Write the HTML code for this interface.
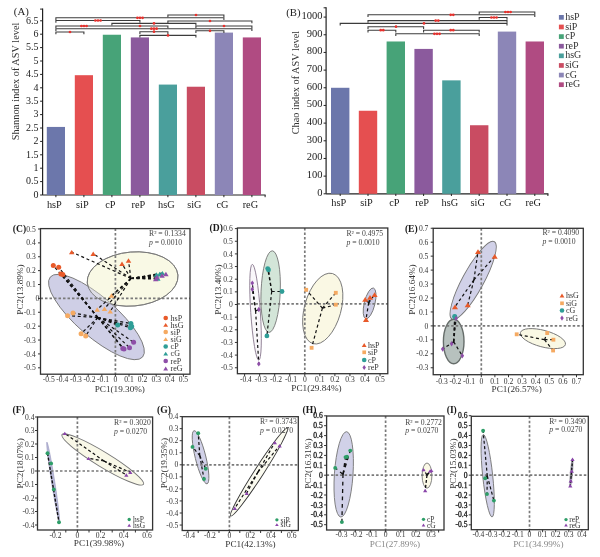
<!DOCTYPE html>
<html><head><meta charset="utf-8"><title>Figure</title>
<style>html,body{margin:0;padding:0;background:#fff;} svg{display:block;} text{font-family:"Liberation Serif", "Times New Roman", serif;}</style>
</head><body>
<svg width="600" height="557" viewBox="0 0 600 557">
<rect width="600" height="557" fill="#fff"/>
<line x1="42.60" y1="8.60" x2="42.60" y2="195.00" stroke="#222" stroke-width="1.2"/>
<line x1="42.60" y1="195.00" x2="265.60" y2="195.00" stroke="#222" stroke-width="1.2"/>
<rect x="46.80" y="126.93" width="18.20" height="68.07" fill="#6c77ab"/>
<line x1="55.90" y1="195.00" x2="55.90" y2="197.20" stroke="#222" stroke-width="1"/>
<text x="54.40" y="207.50" font-size="10.3" text-anchor="middle" fill="#1a1a1a">hsP</text>
<rect x="74.80" y="75.20" width="18.20" height="119.80" fill="#e54f50"/>
<line x1="83.90" y1="195.00" x2="83.90" y2="197.20" stroke="#222" stroke-width="1"/>
<text x="82.40" y="207.50" font-size="10.3" text-anchor="middle" fill="#1a1a1a">siP</text>
<rect x="102.80" y="34.74" width="18.20" height="160.26" fill="#47a378"/>
<line x1="111.90" y1="195.00" x2="111.90" y2="197.20" stroke="#222" stroke-width="1"/>
<text x="110.40" y="207.50" font-size="10.3" text-anchor="middle" fill="#1a1a1a">cP</text>
<rect x="130.80" y="37.42" width="18.20" height="157.58" fill="#8b5a9d"/>
<line x1="139.90" y1="195.00" x2="139.90" y2="197.20" stroke="#222" stroke-width="1"/>
<text x="138.40" y="207.50" font-size="10.3" text-anchor="middle" fill="#1a1a1a">reP</text>
<rect x="158.80" y="84.58" width="18.20" height="110.42" fill="#4a9f9c"/>
<line x1="167.90" y1="195.00" x2="167.90" y2="197.20" stroke="#222" stroke-width="1"/>
<text x="166.40" y="207.50" font-size="10.3" text-anchor="middle" fill="#1a1a1a">hsG</text>
<rect x="186.80" y="86.73" width="18.20" height="108.27" fill="#c94c62"/>
<line x1="195.90" y1="195.00" x2="195.90" y2="197.20" stroke="#222" stroke-width="1"/>
<text x="194.40" y="207.50" font-size="10.3" text-anchor="middle" fill="#1a1a1a">siG</text>
<rect x="214.80" y="32.59" width="18.20" height="162.41" fill="#8c86b7"/>
<line x1="223.90" y1="195.00" x2="223.90" y2="197.20" stroke="#222" stroke-width="1"/>
<text x="222.40" y="207.50" font-size="10.3" text-anchor="middle" fill="#1a1a1a">cG</text>
<rect x="242.80" y="37.42" width="18.20" height="157.58" fill="#b04b82"/>
<line x1="251.90" y1="195.00" x2="251.90" y2="197.20" stroke="#222" stroke-width="1"/>
<text x="250.40" y="207.50" font-size="10.3" text-anchor="middle" fill="#1a1a1a">reG</text>
<line x1="265.10" y1="195.00" x2="265.10" y2="197.20" stroke="#222" stroke-width="1"/>
<line x1="40.10" y1="195.00" x2="42.60" y2="195.00" stroke="#222" stroke-width="1"/>
<text x="38.60" y="197.70" font-size="10.0" text-anchor="end" fill="#222">0</text>
<line x1="40.10" y1="181.60" x2="42.60" y2="181.60" stroke="#222" stroke-width="1"/>
<text x="38.60" y="184.30" font-size="10.0" text-anchor="end" fill="#222">0.5</text>
<line x1="40.10" y1="168.20" x2="42.60" y2="168.20" stroke="#222" stroke-width="1"/>
<text x="38.60" y="170.90" font-size="10.0" text-anchor="end" fill="#222">1</text>
<line x1="40.10" y1="154.80" x2="42.60" y2="154.80" stroke="#222" stroke-width="1"/>
<text x="38.60" y="157.50" font-size="10.0" text-anchor="end" fill="#222">1.5</text>
<line x1="40.10" y1="141.40" x2="42.60" y2="141.40" stroke="#222" stroke-width="1"/>
<text x="38.60" y="144.10" font-size="10.0" text-anchor="end" fill="#222">2</text>
<line x1="40.10" y1="128.00" x2="42.60" y2="128.00" stroke="#222" stroke-width="1"/>
<text x="38.60" y="130.70" font-size="10.0" text-anchor="end" fill="#222">2.5</text>
<line x1="40.10" y1="114.60" x2="42.60" y2="114.60" stroke="#222" stroke-width="1"/>
<text x="38.60" y="117.30" font-size="10.0" text-anchor="end" fill="#222">3</text>
<line x1="40.10" y1="101.20" x2="42.60" y2="101.20" stroke="#222" stroke-width="1"/>
<text x="38.60" y="103.90" font-size="10.0" text-anchor="end" fill="#222">3.5</text>
<line x1="40.10" y1="87.80" x2="42.60" y2="87.80" stroke="#222" stroke-width="1"/>
<text x="38.60" y="90.50" font-size="10.0" text-anchor="end" fill="#222">4</text>
<line x1="40.10" y1="74.40" x2="42.60" y2="74.40" stroke="#222" stroke-width="1"/>
<text x="38.60" y="77.10" font-size="10.0" text-anchor="end" fill="#222">4.5</text>
<line x1="40.10" y1="61.00" x2="42.60" y2="61.00" stroke="#222" stroke-width="1"/>
<text x="38.60" y="63.70" font-size="10.0" text-anchor="end" fill="#222">5</text>
<line x1="40.10" y1="47.60" x2="42.60" y2="47.60" stroke="#222" stroke-width="1"/>
<text x="38.60" y="50.30" font-size="10.0" text-anchor="end" fill="#222">5.5</text>
<line x1="40.10" y1="34.20" x2="42.60" y2="34.20" stroke="#222" stroke-width="1"/>
<text x="38.60" y="36.90" font-size="10.0" text-anchor="end" fill="#222">6</text>
<line x1="40.10" y1="20.80" x2="42.60" y2="20.80" stroke="#222" stroke-width="1"/>
<text x="38.60" y="23.50" font-size="10.0" text-anchor="end" fill="#222">6.5</text>
<line x1="40.10" y1="9.10" x2="42.60" y2="9.10" stroke="#222" stroke-width="1"/>
<text x="13.80" y="15.20" font-size="10.8" text-anchor="start" fill="#222">(A)</text>
<text x="18.90" y="81.50" font-size="10.3" text-anchor="middle" fill="#333" transform="rotate(-90 18.90 81.50)">Shannon index of ASV level</text>
<path d="M167.9 17.2 L167.9 15.0 L223.9 15.0 L223.9 17.2" fill="none" stroke="#3c3c3c" stroke-width="1.1"/>
<circle cx="196.0" cy="15.0" r="1.35" fill="#e8302c"/>
<path d="M55.9 20.0 L55.9 17.8 L223.9 17.8 L223.9 20.0" fill="none" stroke="#3c3c3c" stroke-width="1.1"/>
<circle cx="137.4" cy="17.8" r="1.35" fill="#e8302c"/>
<circle cx="140.0" cy="17.8" r="1.35" fill="#e8302c"/>
<circle cx="142.6" cy="17.8" r="1.35" fill="#e8302c"/>
<path d="M55.9 22.7 L55.9 20.5 L139.9 20.5 L139.9 22.7" fill="none" stroke="#3c3c3c" stroke-width="1.1"/>
<circle cx="95.4" cy="20.5" r="1.35" fill="#e8302c"/>
<circle cx="98.0" cy="20.5" r="1.35" fill="#e8302c"/>
<circle cx="100.6" cy="20.5" r="1.35" fill="#e8302c"/>
<path d="M167.9 23.2 L167.9 21.0 L251.9 21.0 L251.9 23.2" fill="none" stroke="#3c3c3c" stroke-width="1.1"/>
<circle cx="210.0" cy="21.0" r="1.35" fill="#e8302c"/>
<path d="M111.9 25.6 L111.9 23.4 L195.9 23.4 L195.9 25.6" fill="none" stroke="#3c3c3c" stroke-width="1.1"/>
<circle cx="154.0" cy="23.4" r="1.35" fill="#e8302c"/>
<path d="M55.9 28.2 L55.9 26.0 L167.9 26.0 L167.9 28.2" fill="none" stroke="#3c3c3c" stroke-width="1.1"/>
<circle cx="81.4" cy="26.0" r="1.35" fill="#e8302c"/>
<circle cx="84.0" cy="26.0" r="1.35" fill="#e8302c"/>
<circle cx="86.6" cy="26.0" r="1.35" fill="#e8302c"/>
<circle cx="140.0" cy="26.0" r="1.35" fill="#e8302c"/>
<path d="M195.9 28.2 L195.9 26.0 L251.9 26.0 L251.9 28.2" fill="none" stroke="#3c3c3c" stroke-width="1.1"/>
<circle cx="224.0" cy="26.0" r="1.35" fill="#e8302c"/>
<path d="M55.9 30.9 L55.9 28.7 L251.9 28.7 L251.9 30.9" fill="none" stroke="#3c3c3c" stroke-width="1.1"/>
<circle cx="151.4" cy="28.7" r="1.35" fill="#e8302c"/>
<circle cx="154.0" cy="28.7" r="1.35" fill="#e8302c"/>
<circle cx="156.6" cy="28.7" r="1.35" fill="#e8302c"/>
<path d="M55.9 34.2 L55.9 32.0 L83.9 32.0 L83.9 34.2" fill="none" stroke="#3c3c3c" stroke-width="1.1"/>
<circle cx="70.0" cy="32.0" r="1.35" fill="#e8302c"/>
<path d="M139.9 33.9 L139.9 31.7 L167.9 31.7 L167.9 33.9" fill="none" stroke="#3c3c3c" stroke-width="1.1"/>
<circle cx="154.0" cy="31.7" r="1.35" fill="#e8302c"/>
<path d="M195.9 33.0 L195.9 30.8 L223.9 30.8 L223.9 33.0" fill="none" stroke="#3c3c3c" stroke-width="1.1"/>
<circle cx="210.0" cy="30.8" r="1.35" fill="#e8302c"/>
<path d="M139.9 37.6 L139.9 35.4 L195.9 35.4 L195.9 37.6" fill="none" stroke="#3c3c3c" stroke-width="1.1"/>
<circle cx="168.0" cy="35.4" r="1.35" fill="#e8302c"/>
<line x1="326.10" y1="7.30" x2="326.10" y2="193.80" stroke="#222" stroke-width="1.2"/>
<line x1="326.10" y1="193.80" x2="548.40" y2="193.80" stroke="#222" stroke-width="1.2"/>
<rect x="331.00" y="87.78" width="18.40" height="106.02" fill="#6c77ab"/>
<line x1="340.20" y1="193.80" x2="340.20" y2="196.00" stroke="#222" stroke-width="1"/>
<text x="338.70" y="206.40" font-size="10.3" text-anchor="middle" fill="#1a1a1a">hsP</text>
<rect x="358.80" y="110.75" width="18.40" height="83.05" fill="#e54f50"/>
<line x1="368.00" y1="193.80" x2="368.00" y2="196.00" stroke="#222" stroke-width="1"/>
<text x="366.50" y="206.40" font-size="10.3" text-anchor="middle" fill="#1a1a1a">siP</text>
<rect x="386.60" y="41.48" width="18.40" height="152.32" fill="#47a378"/>
<line x1="395.80" y1="193.80" x2="395.80" y2="196.00" stroke="#222" stroke-width="1"/>
<text x="394.30" y="206.40" font-size="10.3" text-anchor="middle" fill="#1a1a1a">cP</text>
<rect x="414.40" y="48.91" width="18.40" height="144.89" fill="#8b5a9d"/>
<line x1="423.60" y1="193.80" x2="423.60" y2="196.00" stroke="#222" stroke-width="1"/>
<text x="422.10" y="206.40" font-size="10.3" text-anchor="middle" fill="#1a1a1a">reP</text>
<rect x="442.20" y="80.36" width="18.40" height="113.44" fill="#4a9f9c"/>
<line x1="451.40" y1="193.80" x2="451.40" y2="196.00" stroke="#222" stroke-width="1"/>
<text x="449.90" y="206.40" font-size="10.3" text-anchor="middle" fill="#1a1a1a">hsG</text>
<rect x="470.00" y="125.24" width="18.40" height="68.56" fill="#c94c62"/>
<line x1="479.20" y1="193.80" x2="479.20" y2="196.00" stroke="#222" stroke-width="1"/>
<text x="477.70" y="206.40" font-size="10.3" text-anchor="middle" fill="#1a1a1a">siG</text>
<rect x="497.80" y="31.59" width="18.40" height="162.21" fill="#8c86b7"/>
<line x1="507.00" y1="193.80" x2="507.00" y2="196.00" stroke="#222" stroke-width="1"/>
<text x="505.50" y="206.40" font-size="10.3" text-anchor="middle" fill="#1a1a1a">cG</text>
<rect x="525.60" y="41.48" width="18.40" height="152.32" fill="#b04b82"/>
<line x1="534.80" y1="193.80" x2="534.80" y2="196.00" stroke="#222" stroke-width="1"/>
<text x="533.30" y="206.40" font-size="10.3" text-anchor="middle" fill="#1a1a1a">reG</text>
<line x1="547.90" y1="193.80" x2="547.90" y2="196.00" stroke="#222" stroke-width="1"/>
<line x1="323.60" y1="193.80" x2="326.10" y2="193.80" stroke="#222" stroke-width="1"/>
<text x="322.60" y="195.70" font-size="10.5" text-anchor="end" fill="#222">0</text>
<line x1="323.60" y1="176.13" x2="326.10" y2="176.13" stroke="#222" stroke-width="1"/>
<text x="322.60" y="178.03" font-size="10.5" text-anchor="end" fill="#222">100</text>
<line x1="323.60" y1="158.46" x2="326.10" y2="158.46" stroke="#222" stroke-width="1"/>
<text x="322.60" y="160.36" font-size="10.5" text-anchor="end" fill="#222">200</text>
<line x1="323.60" y1="140.79" x2="326.10" y2="140.79" stroke="#222" stroke-width="1"/>
<text x="322.60" y="142.69" font-size="10.5" text-anchor="end" fill="#222">300</text>
<line x1="323.60" y1="123.12" x2="326.10" y2="123.12" stroke="#222" stroke-width="1"/>
<text x="322.60" y="125.02" font-size="10.5" text-anchor="end" fill="#222">400</text>
<line x1="323.60" y1="105.45" x2="326.10" y2="105.45" stroke="#222" stroke-width="1"/>
<text x="322.60" y="107.35" font-size="10.5" text-anchor="end" fill="#222">500</text>
<line x1="323.60" y1="87.78" x2="326.10" y2="87.78" stroke="#222" stroke-width="1"/>
<text x="322.60" y="89.68" font-size="10.5" text-anchor="end" fill="#222">600</text>
<line x1="323.60" y1="70.11" x2="326.10" y2="70.11" stroke="#222" stroke-width="1"/>
<text x="322.60" y="72.01" font-size="10.5" text-anchor="end" fill="#222">700</text>
<line x1="323.60" y1="52.44" x2="326.10" y2="52.44" stroke="#222" stroke-width="1"/>
<text x="322.60" y="54.34" font-size="10.5" text-anchor="end" fill="#222">800</text>
<line x1="323.60" y1="34.77" x2="326.10" y2="34.77" stroke="#222" stroke-width="1"/>
<text x="322.60" y="36.67" font-size="10.5" text-anchor="end" fill="#222">900</text>
<line x1="323.60" y1="17.10" x2="326.10" y2="17.10" stroke="#222" stroke-width="1"/>
<text x="322.60" y="19.00" font-size="10.5" text-anchor="end" fill="#222">1000</text>
<line x1="323.60" y1="7.80" x2="326.10" y2="7.80" stroke="#222" stroke-width="1"/>
<text x="286.20" y="15.60" font-size="10.8" text-anchor="start" fill="#222">(B)</text>
<text x="298.90" y="82.60" font-size="10.3" text-anchor="middle" fill="#333" transform="rotate(-90 298.90 82.60)">Chao index of ASV level</text>
<path d="M479.2 14.2 L479.2 12.0 L534.8 12.0 L534.8 14.2" fill="none" stroke="#3c3c3c" stroke-width="1.1"/>
<circle cx="505.4" cy="12.0" r="1.35" fill="#e8302c"/>
<circle cx="508.0" cy="12.0" r="1.35" fill="#e8302c"/>
<circle cx="510.6" cy="12.0" r="1.35" fill="#e8302c"/>
<path d="M368.0 17.0 L368.0 14.8 L534.8 14.8 L534.8 17.0" fill="none" stroke="#3c3c3c" stroke-width="1.1"/>
<circle cx="450.7" cy="14.8" r="1.35" fill="#e8302c"/>
<circle cx="453.3" cy="14.8" r="1.35" fill="#e8302c"/>
<path d="M479.2 19.7 L479.2 17.5 L507.0 17.5 L507.0 19.7" fill="none" stroke="#3c3c3c" stroke-width="1.1"/>
<circle cx="491.4" cy="17.5" r="1.35" fill="#e8302c"/>
<circle cx="494.0" cy="17.5" r="1.35" fill="#e8302c"/>
<circle cx="496.6" cy="17.5" r="1.35" fill="#e8302c"/>
<path d="M368.0 22.8 L368.0 20.6 L507.0 20.6 L507.0 22.8" fill="none" stroke="#3c3c3c" stroke-width="1.1"/>
<circle cx="435.7" cy="20.6" r="1.35" fill="#e8302c"/>
<circle cx="438.3" cy="20.6" r="1.35" fill="#e8302c"/>
<path d="M340.2 25.6 L340.2 23.4 L507.0 23.4 L507.0 25.6" fill="none" stroke="#3c3c3c" stroke-width="1.1"/>
<circle cx="424.0" cy="23.4" r="1.35" fill="#e8302c"/>
<path d="M368.0 28.9 L368.0 26.7 L423.6 26.7 L423.6 28.9" fill="none" stroke="#3c3c3c" stroke-width="1.1"/>
<circle cx="396.0" cy="26.7" r="1.35" fill="#e8302c"/>
<path d="M368.0 32.4 L368.0 30.2 L395.8 30.2 L395.8 32.4" fill="none" stroke="#3c3c3c" stroke-width="1.1"/>
<circle cx="380.7" cy="30.2" r="1.35" fill="#e8302c"/>
<circle cx="383.3" cy="30.2" r="1.35" fill="#e8302c"/>
<path d="M423.6 32.4 L423.6 30.2 L479.2 30.2 L479.2 32.4" fill="none" stroke="#3c3c3c" stroke-width="1.1"/>
<circle cx="450.7" cy="30.2" r="1.35" fill="#e8302c"/>
<circle cx="453.3" cy="30.2" r="1.35" fill="#e8302c"/>
<path d="M395.8 36.0 L395.8 33.8 L479.2 33.8 L479.2 36.0" fill="none" stroke="#3c3c3c" stroke-width="1.1"/>
<circle cx="434.4" cy="33.8" r="1.35" fill="#e8302c"/>
<circle cx="437.0" cy="33.8" r="1.35" fill="#e8302c"/>
<circle cx="439.6" cy="33.8" r="1.35" fill="#e8302c"/>
<rect x="558.90" y="15.00" width="4.90" height="4.70" fill="#6c77ab"/>
<text x="565.20" y="19.90" font-size="10" text-anchor="start" fill="#333">hsP</text>
<rect x="558.90" y="24.62" width="4.90" height="4.70" fill="#e54f50"/>
<text x="565.20" y="29.52" font-size="10" text-anchor="start" fill="#333">siP</text>
<rect x="558.90" y="34.24" width="4.90" height="4.70" fill="#47a378"/>
<text x="565.20" y="39.14" font-size="10" text-anchor="start" fill="#333">cP</text>
<rect x="558.90" y="43.86" width="4.90" height="4.70" fill="#8b5a9d"/>
<text x="565.20" y="48.76" font-size="10" text-anchor="start" fill="#333">reP</text>
<rect x="558.90" y="53.48" width="4.90" height="4.70" fill="#4a9f9c"/>
<text x="565.20" y="58.38" font-size="10" text-anchor="start" fill="#333">hsG</text>
<rect x="558.90" y="63.10" width="4.90" height="4.70" fill="#c94c62"/>
<text x="565.20" y="68.00" font-size="10" text-anchor="start" fill="#333">siG</text>
<rect x="558.90" y="72.72" width="4.90" height="4.70" fill="#8c86b7"/>
<text x="565.20" y="77.62" font-size="10" text-anchor="start" fill="#333">cG</text>
<rect x="558.90" y="82.34" width="4.90" height="4.70" fill="#b04b82"/>
<text x="565.20" y="87.24" font-size="10" text-anchor="start" fill="#333">reG</text>
<ellipse cx="132.60" cy="279.00" rx="45.50" ry="27.00" transform="rotate(-5.00 132.60 279.00)" fill="#f9f9e5" stroke="#777" stroke-width="0.9"/>
<ellipse cx="96.45" cy="317.00" rx="61.07" ry="19.80" transform="rotate(40.92 96.45 317.00)" fill="#cfcfe6" stroke="#777" stroke-width="0.9"/>
<ellipse cx="132.60" cy="279.00" rx="45.50" ry="27.00" transform="rotate(-5.00 132.60 279.00)" fill="rgba(249,249,229,0.35)" stroke="#777" stroke-width="0.9"/>
<line x1="40.50" y1="298.40" x2="190.00" y2="298.40" stroke="#7a7a7a" stroke-width="1.7" stroke-dasharray="2.5,2.0"/>
<line x1="115.40" y1="228.60" x2="115.40" y2="374.20" stroke="#7a7a7a" stroke-width="1.7" stroke-dasharray="2.5,2.0"/>
<line x1="97.80" y1="317.50" x2="53.30" y2="265.60" stroke="#111" stroke-width="1.2" stroke-dasharray="3,2.7"/>
<line x1="97.80" y1="317.50" x2="58.70" y2="267.20" stroke="#111" stroke-width="1.2" stroke-dasharray="3,2.7"/>
<line x1="97.80" y1="317.50" x2="60.90" y2="273.90" stroke="#111" stroke-width="1.2" stroke-dasharray="3,2.7"/>
<line x1="97.80" y1="317.50" x2="62.80" y2="274.50" stroke="#111" stroke-width="1.2" stroke-dasharray="3,2.7"/>
<line x1="97.80" y1="317.50" x2="67.60" y2="315.70" stroke="#111" stroke-width="1.2" stroke-dasharray="3,2.7"/>
<line x1="97.80" y1="317.50" x2="73.00" y2="313.00" stroke="#111" stroke-width="1.2" stroke-dasharray="3,2.7"/>
<line x1="97.80" y1="317.50" x2="81.10" y2="333.70" stroke="#111" stroke-width="1.2" stroke-dasharray="3,2.7"/>
<line x1="97.80" y1="317.50" x2="85.70" y2="335.90" stroke="#111" stroke-width="1.2" stroke-dasharray="3,2.7"/>
<line x1="97.80" y1="317.50" x2="117.70" y2="325.10" stroke="#111" stroke-width="1.2" stroke-dasharray="3,2.7"/>
<line x1="97.80" y1="317.50" x2="130.90" y2="323.50" stroke="#111" stroke-width="1.2" stroke-dasharray="3,2.7"/>
<line x1="97.80" y1="317.50" x2="131.70" y2="326.40" stroke="#111" stroke-width="1.2" stroke-dasharray="3,2.7"/>
<line x1="97.80" y1="317.50" x2="130.40" y2="327.80" stroke="#111" stroke-width="1.2" stroke-dasharray="3,2.7"/>
<line x1="97.80" y1="317.50" x2="122.80" y2="348.50" stroke="#111" stroke-width="1.2" stroke-dasharray="3,2.7"/>
<line x1="97.80" y1="317.50" x2="129.50" y2="347.70" stroke="#111" stroke-width="1.2" stroke-dasharray="3,2.7"/>
<line x1="97.80" y1="317.50" x2="133.60" y2="342.30" stroke="#111" stroke-width="1.2" stroke-dasharray="3,2.7"/>
<line x1="97.80" y1="317.50" x2="124.00" y2="349.00" stroke="#111" stroke-width="1.2" stroke-dasharray="3,2.7"/>
<line x1="130.90" y1="278.50" x2="71.70" y2="252.10" stroke="#111" stroke-width="1.2" stroke-dasharray="3,2.7"/>
<line x1="130.90" y1="278.50" x2="93.20" y2="253.70" stroke="#111" stroke-width="1.2" stroke-dasharray="3,2.7"/>
<line x1="130.90" y1="278.50" x2="122.00" y2="263.70" stroke="#111" stroke-width="1.2" stroke-dasharray="3,2.7"/>
<line x1="130.90" y1="278.50" x2="128.50" y2="260.50" stroke="#111" stroke-width="1.2" stroke-dasharray="3,2.7"/>
<line x1="130.90" y1="278.50" x2="97.20" y2="309.50" stroke="#111" stroke-width="1.2" stroke-dasharray="3,2.7"/>
<line x1="130.90" y1="278.50" x2="104.50" y2="308.70" stroke="#111" stroke-width="1.2" stroke-dasharray="3,2.7"/>
<line x1="130.90" y1="278.50" x2="110.20" y2="311.40" stroke="#111" stroke-width="1.2" stroke-dasharray="3,2.7"/>
<line x1="130.90" y1="278.50" x2="111.50" y2="295.50" stroke="#111" stroke-width="1.2" stroke-dasharray="3,2.7"/>
<line x1="130.90" y1="278.50" x2="156.50" y2="274.50" stroke="#111" stroke-width="1.2" stroke-dasharray="3,2.7"/>
<line x1="130.90" y1="278.50" x2="159.70" y2="274.00" stroke="#111" stroke-width="1.2" stroke-dasharray="3,2.7"/>
<line x1="130.90" y1="278.50" x2="162.40" y2="273.10" stroke="#111" stroke-width="1.2" stroke-dasharray="3,2.7"/>
<line x1="130.90" y1="278.50" x2="157.80" y2="278.50" stroke="#111" stroke-width="1.2" stroke-dasharray="3,2.7"/>
<line x1="130.90" y1="278.50" x2="155.70" y2="279.00" stroke="#111" stroke-width="1.2" stroke-dasharray="3,2.7"/>
<line x1="130.90" y1="278.50" x2="165.90" y2="274.00" stroke="#111" stroke-width="1.2" stroke-dasharray="3,2.7"/>
<line x1="130.90" y1="278.50" x2="162.00" y2="275.50" stroke="#111" stroke-width="1.2" stroke-dasharray="3,2.7"/>
<line x1="130.90" y1="278.50" x2="157.00" y2="277.00" stroke="#111" stroke-width="1.2" stroke-dasharray="3,2.7"/>
<circle cx="53.30" cy="265.60" r="2.50" fill="#e85a2a"/>
<circle cx="58.70" cy="267.20" r="2.50" fill="#e85a2a"/>
<circle cx="60.90" cy="273.90" r="2.50" fill="#e85a2a"/>
<circle cx="62.80" cy="274.50" r="2.50" fill="#e85a2a"/>
<circle cx="67.60" cy="315.70" r="2.50" fill="#f5aa62"/>
<circle cx="73.00" cy="313.00" r="2.50" fill="#f5aa62"/>
<circle cx="81.10" cy="333.70" r="2.50" fill="#f5aa62"/>
<circle cx="85.70" cy="335.90" r="2.50" fill="#f5aa62"/>
<circle cx="117.70" cy="325.10" r="2.50" fill="#2f9e97"/>
<circle cx="130.90" cy="323.50" r="2.50" fill="#2f9e97"/>
<circle cx="131.70" cy="326.40" r="2.50" fill="#2f9e97"/>
<circle cx="130.40" cy="327.80" r="2.50" fill="#2f9e97"/>
<circle cx="122.80" cy="348.50" r="2.50" fill="#8e4ea8"/>
<circle cx="129.50" cy="347.70" r="2.50" fill="#8e4ea8"/>
<circle cx="133.60" cy="342.30" r="2.50" fill="#8e4ea8"/>
<circle cx="124.00" cy="349.00" r="2.50" fill="#8e4ea8"/>
<path d="M71.70 249.91 L74.45 254.29 L68.95 254.29 Z" fill="#e85a2a"/>
<path d="M93.20 251.51 L95.95 255.89 L90.45 255.89 Z" fill="#e85a2a"/>
<path d="M122.00 261.51 L124.75 265.89 L119.25 265.89 Z" fill="#e85a2a"/>
<path d="M128.50 258.31 L131.25 262.69 L125.75 262.69 Z" fill="#e85a2a"/>
<path d="M97.20 307.31 L99.95 311.69 L94.45 311.69 Z" fill="#f5aa62"/>
<path d="M104.50 306.51 L107.25 310.89 L101.75 310.89 Z" fill="#f5aa62"/>
<path d="M110.20 309.21 L112.95 313.59 L107.45 313.59 Z" fill="#f5aa62"/>
<path d="M111.50 293.31 L114.25 297.69 L108.75 297.69 Z" fill="#f5aa62"/>
<path d="M156.50 272.31 L159.25 276.69 L153.75 276.69 Z" fill="#2f9e97"/>
<path d="M159.70 271.81 L162.45 276.19 L156.95 276.19 Z" fill="#2f9e97"/>
<path d="M162.40 270.91 L165.15 275.29 L159.65 275.29 Z" fill="#2f9e97"/>
<path d="M157.80 276.31 L160.55 280.69 L155.05 280.69 Z" fill="#2f9e97"/>
<path d="M155.70 276.81 L158.45 281.19 L152.95 281.19 Z" fill="#8e4ea8"/>
<path d="M165.90 271.81 L168.65 276.19 L163.15 276.19 Z" fill="#8e4ea8"/>
<path d="M162.00 273.31 L164.75 277.69 L159.25 277.69 Z" fill="#8e4ea8"/>
<path d="M157.00 274.81 L159.75 279.19 L154.25 279.19 Z" fill="#8e4ea8"/>
<rect x="40.50" y="228.60" width="149.50" height="145.60" fill="none" stroke="#333" stroke-width="1.3"/>
<line x1="38.00" y1="229.00" x2="40.50" y2="229.00" stroke="#333" stroke-width="1"/>
<text x="35.70" y="231.60" font-size="7.6" text-anchor="end" fill="#333">0.5</text>
<line x1="38.00" y1="242.88" x2="40.50" y2="242.88" stroke="#333" stroke-width="1"/>
<text x="35.70" y="245.48" font-size="7.6" text-anchor="end" fill="#333">0.4</text>
<line x1="38.00" y1="256.76" x2="40.50" y2="256.76" stroke="#333" stroke-width="1"/>
<text x="35.70" y="259.36" font-size="7.6" text-anchor="end" fill="#333">0.3</text>
<line x1="38.00" y1="270.64" x2="40.50" y2="270.64" stroke="#333" stroke-width="1"/>
<text x="35.70" y="273.24" font-size="7.6" text-anchor="end" fill="#333">0.2</text>
<line x1="38.00" y1="284.52" x2="40.50" y2="284.52" stroke="#333" stroke-width="1"/>
<text x="35.70" y="287.12" font-size="7.6" text-anchor="end" fill="#333">0.1</text>
<line x1="38.00" y1="298.40" x2="40.50" y2="298.40" stroke="#333" stroke-width="1"/>
<text x="39.30" y="301.00" font-size="7.6" text-anchor="end" fill="#333">0</text>
<line x1="38.00" y1="312.28" x2="40.50" y2="312.28" stroke="#333" stroke-width="1"/>
<text x="35.70" y="314.88" font-size="7.6" text-anchor="end" fill="#333">-0.1</text>
<line x1="38.00" y1="326.16" x2="40.50" y2="326.16" stroke="#333" stroke-width="1"/>
<text x="35.70" y="328.76" font-size="7.6" text-anchor="end" fill="#333">-0.2</text>
<line x1="38.00" y1="340.04" x2="40.50" y2="340.04" stroke="#333" stroke-width="1"/>
<text x="35.70" y="342.64" font-size="7.6" text-anchor="end" fill="#333">-0.3</text>
<line x1="38.00" y1="353.92" x2="40.50" y2="353.92" stroke="#333" stroke-width="1"/>
<text x="35.70" y="356.52" font-size="7.6" text-anchor="end" fill="#333">-0.4</text>
<line x1="38.00" y1="367.80" x2="40.50" y2="367.80" stroke="#333" stroke-width="1"/>
<text x="35.70" y="370.40" font-size="7.6" text-anchor="end" fill="#333">-0.5</text>
<line x1="47.40" y1="374.20" x2="47.40" y2="376.70" stroke="#333" stroke-width="1"/>
<text x="48.70" y="382.20" font-size="7.6" text-anchor="middle" fill="#333">-0.5</text>
<line x1="61.00" y1="374.20" x2="61.00" y2="376.70" stroke="#333" stroke-width="1"/>
<text x="62.30" y="382.20" font-size="7.6" text-anchor="middle" fill="#333">-0.4</text>
<line x1="74.60" y1="374.20" x2="74.60" y2="376.70" stroke="#333" stroke-width="1"/>
<text x="75.90" y="382.20" font-size="7.6" text-anchor="middle" fill="#333">-0.3</text>
<line x1="88.20" y1="374.20" x2="88.20" y2="376.70" stroke="#333" stroke-width="1"/>
<text x="89.50" y="382.20" font-size="7.6" text-anchor="middle" fill="#333">-0.2</text>
<line x1="101.80" y1="374.20" x2="101.80" y2="376.70" stroke="#333" stroke-width="1"/>
<text x="103.10" y="382.20" font-size="7.6" text-anchor="middle" fill="#333">-0.1</text>
<line x1="115.40" y1="374.20" x2="115.40" y2="376.70" stroke="#333" stroke-width="1"/>
<text x="115.40" y="382.20" font-size="7.6" text-anchor="middle" fill="#333">0</text>
<line x1="129.00" y1="374.20" x2="129.00" y2="376.70" stroke="#333" stroke-width="1"/>
<text x="129.00" y="382.20" font-size="7.6" text-anchor="middle" fill="#333">0.1</text>
<line x1="142.60" y1="374.20" x2="142.60" y2="376.70" stroke="#333" stroke-width="1"/>
<text x="142.60" y="382.20" font-size="7.6" text-anchor="middle" fill="#333">0.2</text>
<line x1="156.20" y1="374.20" x2="156.20" y2="376.70" stroke="#333" stroke-width="1"/>
<text x="156.20" y="382.20" font-size="7.6" text-anchor="middle" fill="#333">0.3</text>
<line x1="169.80" y1="374.20" x2="169.80" y2="376.70" stroke="#333" stroke-width="1"/>
<text x="169.80" y="382.20" font-size="7.6" text-anchor="middle" fill="#333">0.4</text>
<line x1="183.40" y1="374.20" x2="183.40" y2="376.70" stroke="#333" stroke-width="1"/>
<text x="183.40" y="382.20" font-size="7.6" text-anchor="middle" fill="#333">0.5</text>
<text x="119.80" y="391.70" font-size="9.2" text-anchor="middle" fill="#333">PC1(19.30%)</text>
<text x="23.40" y="289.50" font-size="9.2" text-anchor="middle" fill="#333" transform="rotate(-90 23.40 289.50)">PC2(13.89%)</text>
<text x="12.80" y="231.80" font-size="9.6" text-anchor="start" fill="#1a1a1a" font-weight="bold">(C)</text>
<text x="149.00" y="235.90" font-size="7.7" fill="#444">R² = 0.1334</text>
<text x="149.00" y="244.90" font-size="7.7" fill="#444"><tspan font-style="italic">p</tspan> = 0.0010</text>
<circle cx="165.70" cy="318.00" r="2.30" fill="#e85a2a"/>
<text x="170.60" y="320.80" font-size="8" text-anchor="start" fill="#333">hsP</text>
<path d="M165.70 322.97 L168.12 326.82 L163.28 326.82 Z" fill="#e85a2a"/>
<text x="170.60" y="327.70" font-size="8" text-anchor="start" fill="#333">hsG</text>
<circle cx="165.70" cy="332.00" r="2.30" fill="#f5aa62"/>
<text x="170.60" y="334.80" font-size="8" text-anchor="start" fill="#333">siP</text>
<path d="M165.70 337.27 L168.12 341.12 L163.28 341.12 Z" fill="#f5aa62"/>
<text x="170.60" y="342.00" font-size="8" text-anchor="start" fill="#333">siG</text>
<circle cx="165.70" cy="346.50" r="2.30" fill="#2f9e97"/>
<text x="170.60" y="349.30" font-size="8" text-anchor="start" fill="#333">cP</text>
<path d="M165.70 351.68 L168.12 355.53 L163.28 355.53 Z" fill="#2f9e97"/>
<text x="170.60" y="356.40" font-size="8" text-anchor="start" fill="#333">cG</text>
<circle cx="165.70" cy="361.00" r="2.30" fill="#8e4ea8"/>
<text x="170.60" y="363.80" font-size="8" text-anchor="start" fill="#333">reP</text>
<path d="M165.70 366.57 L168.12 370.43 L163.28 370.43 Z" fill="#8e4ea8"/>
<text x="170.60" y="371.30" font-size="8" text-anchor="start" fill="#333">reG</text>
<ellipse cx="255.55" cy="312.25" rx="48.06" ry="4.80" transform="rotate(86.12 255.55 312.25)" fill="#f9f7fa" stroke="#8a7a90" stroke-width="0.9"/>
<ellipse cx="270.65" cy="291.60" rx="40.83" ry="9.60" transform="rotate(92.32 270.65 291.60)" fill="#d3e5d8" stroke="#777" stroke-width="0.9"/>
<ellipse cx="322.75" cy="308.60" rx="18.30" ry="36.40" transform="rotate(15.50 322.75 308.60)" fill="#faf8e4" stroke="#777" stroke-width="0.9"/>
<ellipse cx="369.60" cy="303.40" rx="15.86" ry="5.30" transform="rotate(103.86 369.60 303.40)" fill="#cdcde5" stroke="#777" stroke-width="0.9"/>
<line x1="237.40" y1="303.90" x2="387.80" y2="303.90" stroke="#7a7a7a" stroke-width="1.7" stroke-dasharray="2.5,2.0"/>
<line x1="304.80" y1="228.00" x2="304.80" y2="373.70" stroke="#7a7a7a" stroke-width="1.7" stroke-dasharray="2.5,2.0"/>
<line x1="255.60" y1="310.90" x2="252.30" y2="283.10" stroke="#111" stroke-width="1.2" stroke-dasharray="3,2.7"/>
<line x1="255.60" y1="310.90" x2="252.30" y2="289.30" stroke="#111" stroke-width="1.2" stroke-dasharray="3,2.7"/>
<line x1="255.60" y1="310.90" x2="258.80" y2="309.50" stroke="#111" stroke-width="1.2" stroke-dasharray="3,2.7"/>
<line x1="255.60" y1="310.90" x2="258.80" y2="363.90" stroke="#111" stroke-width="1.2" stroke-dasharray="3,2.7"/>
<line x1="271.70" y1="291.50" x2="267.70" y2="268.60" stroke="#111" stroke-width="1.2" stroke-dasharray="3,2.7"/>
<line x1="271.70" y1="291.50" x2="268.50" y2="269.90" stroke="#111" stroke-width="1.2" stroke-dasharray="3,2.7"/>
<line x1="271.70" y1="291.50" x2="282.00" y2="291.50" stroke="#111" stroke-width="1.2" stroke-dasharray="3,2.7"/>
<line x1="271.70" y1="291.50" x2="266.90" y2="335.90" stroke="#111" stroke-width="1.2" stroke-dasharray="3,2.7"/>
<line x1="322.40" y1="308.20" x2="306.20" y2="289.80" stroke="#111" stroke-width="1.2" stroke-dasharray="3,2.7"/>
<line x1="322.40" y1="308.20" x2="335.80" y2="292.80" stroke="#111" stroke-width="1.2" stroke-dasharray="3,2.7"/>
<line x1="322.40" y1="308.20" x2="335.80" y2="304.70" stroke="#111" stroke-width="1.2" stroke-dasharray="3,2.7"/>
<line x1="322.40" y1="308.20" x2="311.60" y2="347.80" stroke="#111" stroke-width="1.2" stroke-dasharray="3,2.7"/>
<line x1="368.70" y1="302.80" x2="365.20" y2="299.30" stroke="#111" stroke-width="1.2" stroke-dasharray="3,2.7"/>
<line x1="368.70" y1="302.80" x2="370.00" y2="297.40" stroke="#111" stroke-width="1.2" stroke-dasharray="3,2.7"/>
<line x1="368.70" y1="302.80" x2="374.60" y2="294.70" stroke="#111" stroke-width="1.2" stroke-dasharray="3,2.7"/>
<line x1="368.70" y1="302.80" x2="366.00" y2="319.50" stroke="#111" stroke-width="1.2" stroke-dasharray="3,2.7"/>
<path d="M252.30 280.41 L254.10 283.10 L252.30 285.79 L250.50 283.10 Z" fill="#8e4ea8"/>
<path d="M252.30 286.61 L254.10 289.30 L252.30 291.99 L250.50 289.30 Z" fill="#8e4ea8"/>
<path d="M258.80 306.81 L260.60 309.50 L258.80 312.19 L257.00 309.50 Z" fill="#8e4ea8"/>
<path d="M258.80 361.21 L260.60 363.90 L258.80 366.59 L257.00 363.90 Z" fill="#8e4ea8"/>
<circle cx="267.70" cy="268.60" r="2.40" fill="#2f9e97"/>
<circle cx="268.50" cy="269.90" r="2.40" fill="#2f9e97"/>
<circle cx="282.00" cy="291.50" r="2.40" fill="#2f9e97"/>
<circle cx="266.90" cy="335.90" r="2.40" fill="#2f9e97"/>
<rect x="304.28" y="287.88" width="3.84" height="3.84" fill="#f5aa62"/>
<rect x="333.88" y="290.88" width="3.84" height="3.84" fill="#f5aa62"/>
<rect x="333.88" y="302.78" width="3.84" height="3.84" fill="#f5aa62"/>
<rect x="309.68" y="345.88" width="3.84" height="3.84" fill="#f5aa62"/>
<path d="M365.20 296.89 L368.22 301.71 L362.18 301.71 Z" fill="#e85a2a"/>
<path d="M370.00 294.99 L373.02 299.81 L366.98 299.81 Z" fill="#e85a2a"/>
<path d="M374.60 292.29 L377.62 297.11 L371.58 297.11 Z" fill="#e85a2a"/>
<path d="M366.00 317.09 L369.02 321.91 L362.98 321.91 Z" fill="#e85a2a"/>
<rect x="237.40" y="228.00" width="150.40" height="145.70" fill="none" stroke="#333" stroke-width="1.3"/>
<line x1="234.90" y1="228.60" x2="237.40" y2="228.60" stroke="#333" stroke-width="1"/>
<text x="232.80" y="231.20" font-size="7.6" text-anchor="end" fill="#333">0.6</text>
<line x1="234.90" y1="241.25" x2="237.40" y2="241.25" stroke="#333" stroke-width="1"/>
<text x="232.80" y="243.85" font-size="7.6" text-anchor="end" fill="#333">0.5</text>
<line x1="234.90" y1="253.90" x2="237.40" y2="253.90" stroke="#333" stroke-width="1"/>
<text x="232.80" y="256.50" font-size="7.6" text-anchor="end" fill="#333">0.4</text>
<line x1="234.90" y1="266.55" x2="237.40" y2="266.55" stroke="#333" stroke-width="1"/>
<text x="232.80" y="269.15" font-size="7.6" text-anchor="end" fill="#333">0.3</text>
<line x1="234.90" y1="279.20" x2="237.40" y2="279.20" stroke="#333" stroke-width="1"/>
<text x="232.80" y="281.80" font-size="7.6" text-anchor="end" fill="#333">0.2</text>
<line x1="234.90" y1="291.85" x2="237.40" y2="291.85" stroke="#333" stroke-width="1"/>
<text x="232.80" y="294.45" font-size="7.6" text-anchor="end" fill="#333">0.1</text>
<line x1="234.90" y1="304.50" x2="237.40" y2="304.50" stroke="#333" stroke-width="1"/>
<text x="232.80" y="307.10" font-size="7.6" text-anchor="end" fill="#333">0</text>
<line x1="234.90" y1="317.15" x2="237.40" y2="317.15" stroke="#333" stroke-width="1"/>
<text x="232.80" y="319.75" font-size="7.6" text-anchor="end" fill="#333">-0.1</text>
<line x1="234.90" y1="329.80" x2="237.40" y2="329.80" stroke="#333" stroke-width="1"/>
<text x="232.80" y="332.40" font-size="7.6" text-anchor="end" fill="#333">-0.2</text>
<line x1="234.90" y1="342.45" x2="237.40" y2="342.45" stroke="#333" stroke-width="1"/>
<text x="232.80" y="345.05" font-size="7.6" text-anchor="end" fill="#333">-0.3</text>
<line x1="234.90" y1="355.10" x2="237.40" y2="355.10" stroke="#333" stroke-width="1"/>
<text x="232.80" y="357.70" font-size="7.6" text-anchor="end" fill="#333">-0.4</text>
<line x1="234.90" y1="367.75" x2="237.40" y2="367.75" stroke="#333" stroke-width="1"/>
<text x="232.80" y="370.35" font-size="7.6" text-anchor="end" fill="#333">-0.5</text>
<line x1="244.60" y1="373.70" x2="244.60" y2="376.20" stroke="#333" stroke-width="1"/>
<text x="245.90" y="381.80" font-size="7.6" text-anchor="middle" fill="#333">-0.4</text>
<line x1="259.65" y1="373.70" x2="259.65" y2="376.20" stroke="#333" stroke-width="1"/>
<text x="260.95" y="381.80" font-size="7.6" text-anchor="middle" fill="#333">-0.3</text>
<line x1="274.70" y1="373.70" x2="274.70" y2="376.20" stroke="#333" stroke-width="1"/>
<text x="276.00" y="381.80" font-size="7.6" text-anchor="middle" fill="#333">-0.2</text>
<line x1="289.75" y1="373.70" x2="289.75" y2="376.20" stroke="#333" stroke-width="1"/>
<text x="291.05" y="381.80" font-size="7.6" text-anchor="middle" fill="#333">-0.1</text>
<line x1="304.80" y1="373.70" x2="304.80" y2="376.20" stroke="#333" stroke-width="1"/>
<text x="304.80" y="381.80" font-size="7.6" text-anchor="middle" fill="#333">0</text>
<line x1="319.85" y1="373.70" x2="319.85" y2="376.20" stroke="#333" stroke-width="1"/>
<text x="319.85" y="381.80" font-size="7.6" text-anchor="middle" fill="#333">0.1</text>
<line x1="334.90" y1="373.70" x2="334.90" y2="376.20" stroke="#333" stroke-width="1"/>
<text x="334.90" y="381.80" font-size="7.6" text-anchor="middle" fill="#333">0.2</text>
<line x1="349.95" y1="373.70" x2="349.95" y2="376.20" stroke="#333" stroke-width="1"/>
<text x="349.95" y="381.80" font-size="7.6" text-anchor="middle" fill="#333">0.3</text>
<line x1="365.00" y1="373.70" x2="365.00" y2="376.20" stroke="#333" stroke-width="1"/>
<text x="365.00" y="381.80" font-size="7.6" text-anchor="middle" fill="#333">0.4</text>
<line x1="380.05" y1="373.70" x2="380.05" y2="376.20" stroke="#333" stroke-width="1"/>
<text x="380.05" y="381.80" font-size="7.6" text-anchor="middle" fill="#333">0.5</text>
<text x="316.50" y="390.80" font-size="9.2" text-anchor="middle" fill="#333">PC1(29.84%)</text>
<text x="220.80" y="289.50" font-size="9.2" text-anchor="middle" fill="#333" transform="rotate(-90 220.80 289.50)">PC2(13.40%)</text>
<text x="209.60" y="231.20" font-size="9.6" text-anchor="start" fill="#1a1a1a" font-weight="bold">(D)</text>
<text x="346.40" y="236.30" font-size="7.7" fill="#444">R² = 0.4975</text>
<text x="346.40" y="245.10" font-size="7.7" fill="#444"><tspan font-style="italic">p</tspan> = 0.0010</text>
<path d="M364.20 343.07 L366.62 346.93 L361.78 346.93 Z" fill="#e85a2a"/>
<text x="368.00" y="347.80" font-size="8" text-anchor="start" fill="#333">hsP</text>
<rect x="362.36" y="350.46" width="3.68" height="3.68" fill="#f5aa62"/>
<text x="368.00" y="355.10" font-size="8" text-anchor="start" fill="#333">siP</text>
<circle cx="364.20" cy="360.00" r="2.30" fill="#2f9e97"/>
<text x="368.00" y="362.80" font-size="8" text-anchor="start" fill="#333">cP</text>
<path d="M364.20 364.92 L365.93 367.50 L364.20 370.08 L362.47 367.50 Z" fill="#8e4ea8"/>
<text x="368.00" y="370.30" font-size="8" text-anchor="start" fill="#333">reP</text>
<ellipse cx="473.15" cy="280.40" rx="44.19" ry="10.60" transform="rotate(118.59 473.15 280.40)" fill="#d1d1e8" stroke="#777" stroke-width="0.9"/>
<ellipse cx="453.70" cy="341.50" rx="10.30" ry="22.20" transform="rotate(0.00 453.70 341.50)" fill="#b7c1be" stroke="#666d6a" stroke-width="1.4"/>
<ellipse cx="542.90" cy="338.60" rx="23.29" ry="8.30" transform="rotate(14.93 542.90 338.60)" fill="#f9f8e4" stroke="#777" stroke-width="0.9"/>
<line x1="433.20" y1="325.90" x2="583.30" y2="325.90" stroke="#7a7a7a" stroke-width="1.7" stroke-dasharray="2.5,2.0"/>
<line x1="481.30" y1="228.30" x2="481.30" y2="374.70" stroke="#7a7a7a" stroke-width="1.7" stroke-dasharray="2.5,2.0"/>
<line x1="473.90" y1="279.90" x2="478.00" y2="251.60" stroke="#111" stroke-width="1.2" stroke-dasharray="3,2.7"/>
<line x1="473.90" y1="279.90" x2="494.70" y2="256.40" stroke="#111" stroke-width="1.2" stroke-dasharray="3,2.7"/>
<line x1="473.90" y1="279.90" x2="455.00" y2="306.80" stroke="#111" stroke-width="1.2" stroke-dasharray="3,2.7"/>
<line x1="473.90" y1="279.90" x2="467.70" y2="304.90" stroke="#111" stroke-width="1.2" stroke-dasharray="3,2.7"/>
<line x1="544.50" y1="339.70" x2="516.70" y2="334.30" stroke="#111" stroke-width="1.2" stroke-dasharray="3,2.7"/>
<line x1="544.50" y1="339.70" x2="547.20" y2="333.00" stroke="#111" stroke-width="1.2" stroke-dasharray="3,2.7"/>
<line x1="544.50" y1="339.70" x2="553.40" y2="339.70" stroke="#111" stroke-width="1.2" stroke-dasharray="3,2.7"/>
<line x1="544.50" y1="339.70" x2="553.10" y2="350.50" stroke="#111" stroke-width="1.2" stroke-dasharray="3,2.7"/>
<line x1="453.70" y1="341.80" x2="455.00" y2="317.00" stroke="#111" stroke-width="1.2" stroke-dasharray="3,2.7"/>
<line x1="453.70" y1="341.80" x2="454.60" y2="316.40" stroke="#111" stroke-width="1.2" stroke-dasharray="3,2.7"/>
<line x1="453.70" y1="341.80" x2="456.10" y2="318.40" stroke="#111" stroke-width="1.2" stroke-dasharray="3,2.7"/>
<line x1="453.70" y1="341.80" x2="442.70" y2="349.10" stroke="#111" stroke-width="1.2" stroke-dasharray="3,2.7"/>
<line x1="453.70" y1="341.80" x2="451.60" y2="343.70" stroke="#111" stroke-width="1.2" stroke-dasharray="3,2.7"/>
<line x1="453.70" y1="341.80" x2="462.30" y2="355.80" stroke="#111" stroke-width="1.2" stroke-dasharray="3,2.7"/>
<path d="M478.00 249.19 L481.02 254.01 L474.98 254.01 Z" fill="#e85a2a"/>
<path d="M494.70 253.99 L497.72 258.81 L491.68 258.81 Z" fill="#e85a2a"/>
<path d="M455.00 304.39 L458.02 309.21 L451.98 309.21 Z" fill="#e85a2a"/>
<path d="M467.70 302.49 L470.72 307.31 L464.68 307.31 Z" fill="#e85a2a"/>
<rect x="514.78" y="332.38" width="3.84" height="3.84" fill="#f5aa62"/>
<rect x="545.28" y="331.08" width="3.84" height="3.84" fill="#f5aa62"/>
<rect x="551.48" y="337.78" width="3.84" height="3.84" fill="#f5aa62"/>
<rect x="551.18" y="348.58" width="3.84" height="3.84" fill="#f5aa62"/>
<circle cx="455.00" cy="317.00" r="2.40" fill="#2f9e97"/>
<circle cx="454.60" cy="316.40" r="2.40" fill="#2f9e97"/>
<path d="M456.10 315.71 L457.90 318.40 L456.10 321.09 L454.30 318.40 Z" fill="#8e4ea8"/>
<path d="M442.70 346.41 L444.50 349.10 L442.70 351.79 L440.90 349.10 Z" fill="#8e4ea8"/>
<path d="M451.60 341.01 L453.40 343.70 L451.60 346.39 L449.80 343.70 Z" fill="#8e4ea8"/>
<path d="M462.30 353.11 L464.10 355.80 L462.30 358.49 L460.50 355.80 Z" fill="#8e4ea8"/>
<rect x="433.20" y="228.30" width="150.10" height="146.40" fill="none" stroke="#333" stroke-width="1.3"/>
<line x1="430.70" y1="228.25" x2="433.20" y2="228.25" stroke="#333" stroke-width="1"/>
<text x="428.40" y="230.85" font-size="7.6" text-anchor="end" fill="#333">0.7</text>
<line x1="430.70" y1="242.20" x2="433.20" y2="242.20" stroke="#333" stroke-width="1"/>
<text x="428.40" y="244.80" font-size="7.6" text-anchor="end" fill="#333">0.6</text>
<line x1="430.70" y1="256.15" x2="433.20" y2="256.15" stroke="#333" stroke-width="1"/>
<text x="428.40" y="258.75" font-size="7.6" text-anchor="end" fill="#333">0.5</text>
<line x1="430.70" y1="270.10" x2="433.20" y2="270.10" stroke="#333" stroke-width="1"/>
<text x="428.40" y="272.70" font-size="7.6" text-anchor="end" fill="#333">0.4</text>
<line x1="430.70" y1="284.05" x2="433.20" y2="284.05" stroke="#333" stroke-width="1"/>
<text x="428.40" y="286.65" font-size="7.6" text-anchor="end" fill="#333">0.3</text>
<line x1="430.70" y1="298.00" x2="433.20" y2="298.00" stroke="#333" stroke-width="1"/>
<text x="428.40" y="300.60" font-size="7.6" text-anchor="end" fill="#333">0.2</text>
<line x1="430.70" y1="311.95" x2="433.20" y2="311.95" stroke="#333" stroke-width="1"/>
<text x="428.40" y="314.55" font-size="7.6" text-anchor="end" fill="#333">0.1</text>
<line x1="430.70" y1="325.90" x2="433.20" y2="325.90" stroke="#333" stroke-width="1"/>
<text x="428.40" y="328.50" font-size="7.6" text-anchor="end" fill="#333">0</text>
<line x1="430.70" y1="339.85" x2="433.20" y2="339.85" stroke="#333" stroke-width="1"/>
<text x="428.40" y="342.45" font-size="7.6" text-anchor="end" fill="#333">-0.1</text>
<line x1="430.70" y1="353.80" x2="433.20" y2="353.80" stroke="#333" stroke-width="1"/>
<text x="428.40" y="356.40" font-size="7.6" text-anchor="end" fill="#333">-0.2</text>
<line x1="430.70" y1="367.75" x2="433.20" y2="367.75" stroke="#333" stroke-width="1"/>
<text x="428.40" y="370.35" font-size="7.6" text-anchor="end" fill="#333">-0.3</text>
<line x1="440.50" y1="374.70" x2="440.50" y2="377.20" stroke="#333" stroke-width="1"/>
<text x="441.80" y="384.00" font-size="7.6" text-anchor="middle" fill="#333">-0.3</text>
<line x1="454.10" y1="374.70" x2="454.10" y2="377.20" stroke="#333" stroke-width="1"/>
<text x="455.40" y="384.00" font-size="7.6" text-anchor="middle" fill="#333">-0.2</text>
<line x1="467.70" y1="374.70" x2="467.70" y2="377.20" stroke="#333" stroke-width="1"/>
<text x="469.00" y="384.00" font-size="7.6" text-anchor="middle" fill="#333">-0.1</text>
<line x1="481.30" y1="374.70" x2="481.30" y2="377.20" stroke="#333" stroke-width="1"/>
<text x="481.30" y="384.00" font-size="7.6" text-anchor="middle" fill="#333">0</text>
<line x1="494.90" y1="374.70" x2="494.90" y2="377.20" stroke="#333" stroke-width="1"/>
<text x="494.90" y="384.00" font-size="7.6" text-anchor="middle" fill="#333">0.1</text>
<line x1="508.50" y1="374.70" x2="508.50" y2="377.20" stroke="#333" stroke-width="1"/>
<text x="508.50" y="384.00" font-size="7.6" text-anchor="middle" fill="#333">0.2</text>
<line x1="522.10" y1="374.70" x2="522.10" y2="377.20" stroke="#333" stroke-width="1"/>
<text x="522.10" y="384.00" font-size="7.6" text-anchor="middle" fill="#333">0.3</text>
<line x1="535.70" y1="374.70" x2="535.70" y2="377.20" stroke="#333" stroke-width="1"/>
<text x="535.70" y="384.00" font-size="7.6" text-anchor="middle" fill="#333">0.4</text>
<line x1="549.30" y1="374.70" x2="549.30" y2="377.20" stroke="#333" stroke-width="1"/>
<text x="549.30" y="384.00" font-size="7.6" text-anchor="middle" fill="#333">0.5</text>
<line x1="562.90" y1="374.70" x2="562.90" y2="377.20" stroke="#333" stroke-width="1"/>
<text x="562.90" y="384.00" font-size="7.6" text-anchor="middle" fill="#333">0.6</text>
<line x1="576.50" y1="374.70" x2="576.50" y2="377.20" stroke="#333" stroke-width="1"/>
<text x="576.50" y="384.00" font-size="7.6" text-anchor="middle" fill="#333">0.7</text>
<text x="516.70" y="391.70" font-size="9.2" text-anchor="middle" fill="#333">PC1(26.57%)</text>
<text x="414.90" y="289.50" font-size="9.2" text-anchor="middle" fill="#333" transform="rotate(-90 414.90 289.50)">PC2(16.64%)</text>
<text x="404.90" y="231.60" font-size="9.6" text-anchor="start" fill="#1a1a1a" font-weight="bold">(E)</text>
<text x="542.40" y="234.90" font-size="7.7" fill="#444">R² = 0.4090</text>
<text x="542.40" y="243.70" font-size="7.7" fill="#444"><tspan font-style="italic">p</tspan> = 0.0010</text>
<path d="M562.00 293.57 L564.42 297.43 L559.58 297.43 Z" fill="#e85a2a"/>
<text x="566.00" y="298.30" font-size="8" text-anchor="start" fill="#333">hsG</text>
<rect x="560.16" y="301.46" width="3.68" height="3.68" fill="#f5aa62"/>
<text x="566.00" y="306.10" font-size="8" text-anchor="start" fill="#333">siG</text>
<circle cx="562.00" cy="310.50" r="2.30" fill="#2f9e97"/>
<text x="566.00" y="313.30" font-size="8" text-anchor="start" fill="#333">cG</text>
<path d="M562.00 315.52 L563.73 318.10 L562.00 320.68 L560.27 318.10 Z" fill="#8e4ea8"/>
<text x="566.00" y="320.90" font-size="8" text-anchor="start" fill="#333">reG</text>
<ellipse cx="53.15" cy="482.00" rx="40.39" ry="1.60" transform="rotate(81.10 53.15 482.00)" fill="#b9b9d9" stroke="#9a9ac0" stroke-width="0.6"/>
<ellipse cx="102.75" cy="459.45" rx="47.73" ry="7.40" transform="rotate(31.38 102.75 459.45)" fill="#f9f8e8" stroke="#777" stroke-width="0.9"/>
<line x1="37.50" y1="471.00" x2="152.60" y2="471.00" stroke="#7a7a7a" stroke-width="1.7" stroke-dasharray="2.5,2.0"/>
<line x1="77.40" y1="417.00" x2="77.40" y2="530.00" stroke="#7a7a7a" stroke-width="1.7" stroke-dasharray="2.5,2.0"/>
<line x1="47.50" y1="453.20" x2="59.00" y2="522.30" stroke="#111" stroke-width="1.4" stroke-dasharray="3,1.6"/>
<line x1="104.00" y1="461.00" x2="64.80" y2="433.40" stroke="#111" stroke-width="1.2" stroke-dasharray="3,2.4"/>
<line x1="104.00" y1="461.00" x2="88.60" y2="458.40" stroke="#111" stroke-width="1.2" stroke-dasharray="3,2.4"/>
<line x1="104.00" y1="461.00" x2="126.30" y2="475.00" stroke="#111" stroke-width="1.2" stroke-dasharray="3,2.4"/>
<line x1="104.00" y1="461.00" x2="130.30" y2="472.30" stroke="#111" stroke-width="1.2" stroke-dasharray="3,2.4"/>
<circle cx="47.50" cy="453.20" r="1.95" fill="#2e9e68"/>
<circle cx="51.10" cy="463.40" r="1.95" fill="#2e9e68"/>
<circle cx="53.80" cy="489.40" r="1.95" fill="#2e9e68"/>
<circle cx="59.00" cy="522.30" r="1.95" fill="#2e9e68"/>
<path d="M64.80 431.69 L66.94 435.11 L62.65 435.11 Z" fill="#8a45aa"/>
<path d="M88.60 456.69 L90.74 460.11 L86.45 460.11 Z" fill="#8a45aa"/>
<path d="M126.30 473.29 L128.44 476.71 L124.16 476.71 Z" fill="#8a45aa"/>
<path d="M130.30 470.59 L132.45 474.01 L128.16 474.01 Z" fill="#8a45aa"/>
<rect x="37.50" y="417.00" width="115.10" height="113.00" fill="none" stroke="#333" stroke-width="1.3"/>
<line x1="35.00" y1="417.00" x2="37.50" y2="417.00" stroke="#333" stroke-width="1"/>
<text x="34.50" y="419.60" font-size="7.6" text-anchor="end" fill="#333">0.4</text>
<line x1="35.00" y1="430.50" x2="37.50" y2="430.50" stroke="#333" stroke-width="1"/>
<text x="34.50" y="433.10" font-size="7.6" text-anchor="end" fill="#333">0.3</text>
<line x1="35.00" y1="444.00" x2="37.50" y2="444.00" stroke="#333" stroke-width="1"/>
<text x="34.50" y="446.60" font-size="7.6" text-anchor="end" fill="#333">0.2</text>
<line x1="35.00" y1="457.50" x2="37.50" y2="457.50" stroke="#333" stroke-width="1"/>
<text x="34.50" y="460.10" font-size="7.6" text-anchor="end" fill="#333">0.1</text>
<line x1="35.00" y1="471.00" x2="37.50" y2="471.00" stroke="#333" stroke-width="1"/>
<text x="34.50" y="473.60" font-size="7.6" text-anchor="end" fill="#333">0</text>
<line x1="35.00" y1="484.50" x2="37.50" y2="484.50" stroke="#333" stroke-width="1"/>
<text x="34.50" y="487.10" font-size="7.6" text-anchor="end" fill="#333">-0.1</text>
<line x1="35.00" y1="498.00" x2="37.50" y2="498.00" stroke="#333" stroke-width="1"/>
<text x="34.50" y="500.60" font-size="7.6" text-anchor="end" fill="#333">-0.2</text>
<line x1="35.00" y1="511.50" x2="37.50" y2="511.50" stroke="#333" stroke-width="1"/>
<text x="34.50" y="514.10" font-size="7.6" text-anchor="end" fill="#333">-0.3</text>
<line x1="35.00" y1="525.00" x2="37.50" y2="525.00" stroke="#333" stroke-width="1"/>
<text x="34.50" y="527.60" font-size="7.6" text-anchor="end" fill="#333">-0.4</text>
<line x1="54.20" y1="530.00" x2="54.20" y2="532.50" stroke="#333" stroke-width="1"/>
<text x="55.50" y="538.00" font-size="7.6" text-anchor="middle" fill="#333">-0.2</text>
<line x1="77.40" y1="530.00" x2="77.40" y2="532.50" stroke="#333" stroke-width="1"/>
<text x="77.40" y="538.00" font-size="7.6" text-anchor="middle" fill="#333">0</text>
<line x1="100.60" y1="530.00" x2="100.60" y2="532.50" stroke="#333" stroke-width="1"/>
<text x="100.60" y="538.00" font-size="7.6" text-anchor="middle" fill="#333">0.2</text>
<line x1="123.80" y1="530.00" x2="123.80" y2="532.50" stroke="#333" stroke-width="1"/>
<text x="123.80" y="538.00" font-size="7.6" text-anchor="middle" fill="#333">0.4</text>
<line x1="147.00" y1="530.00" x2="147.00" y2="532.50" stroke="#333" stroke-width="1"/>
<text x="147.00" y="538.00" font-size="7.6" text-anchor="middle" fill="#333">0.6</text>
<line x1="65.80" y1="530.00" x2="65.80" y2="532.50" stroke="#333" stroke-width="1"/>
<line x1="89.00" y1="530.00" x2="89.00" y2="532.50" stroke="#333" stroke-width="1"/>
<line x1="112.20" y1="530.00" x2="112.20" y2="532.50" stroke="#333" stroke-width="1"/>
<line x1="135.40" y1="530.00" x2="135.40" y2="532.50" stroke="#333" stroke-width="1"/>
<text x="99.00" y="546.30" font-size="9.2" text-anchor="middle" fill="#333">PC1(39.98%)</text>
<text x="23.00" y="463.30" font-size="9.2" text-anchor="middle" fill="#333" transform="rotate(-90 23.00 463.30)">PC2(18.07%)</text>
<text x="12.60" y="412.70" font-size="9.6" text-anchor="start" fill="#1a1a1a" font-weight="bold">(F)</text>
<text x="114.00" y="424.90" font-size="7.7" fill="#444">R² = 0.3020</text>
<text x="114.00" y="434.00" font-size="7.7" fill="#444"><tspan font-style="italic">p</tspan> = 0.0270</text>
<circle cx="129.20" cy="519.50" r="1.65" fill="#2e9e68"/>
<text x="133.00" y="522.30" font-size="7.5" text-anchor="start" fill="#333">hsP</text>
<path d="M129.20 523.76 L131.01 526.64 L127.38 526.64 Z" fill="#8a45aa"/>
<text x="133.00" y="528.00" font-size="7.5" text-anchor="start" fill="#333">hsG</text>
<ellipse cx="200.55" cy="457.25" rx="27.35" ry="5.30" transform="rotate(76.14 200.55 457.25)" fill="#d1d1e8" stroke="#777" stroke-width="0.9"/>
<ellipse cx="259.00" cy="472.15" rx="52.27" ry="4.60" transform="rotate(-57.22 259.00 472.15)" fill="#fbfbf0" stroke="#333" stroke-width="0.9"/>
<line x1="182.20" y1="464.80" x2="298.30" y2="464.80" stroke="#7a7a7a" stroke-width="1.7" stroke-dasharray="2.5,2.0"/>
<line x1="229.40" y1="416.70" x2="229.40" y2="530.50" stroke="#7a7a7a" stroke-width="1.7" stroke-dasharray="2.5,2.0"/>
<line x1="199.80" y1="455.70" x2="198.20" y2="433.20" stroke="#111" stroke-width="1.2" stroke-dasharray="3,2.4"/>
<line x1="199.80" y1="455.70" x2="192.50" y2="446.90" stroke="#111" stroke-width="1.2" stroke-dasharray="3,2.4"/>
<line x1="199.80" y1="455.70" x2="205.70" y2="468.80" stroke="#111" stroke-width="1.2" stroke-dasharray="3,2.4"/>
<line x1="199.80" y1="455.70" x2="204.00" y2="479.00" stroke="#111" stroke-width="1.2" stroke-dasharray="3,2.4"/>
<line x1="258.00" y1="472.00" x2="274.80" y2="442.50" stroke="#111" stroke-width="1.2" stroke-dasharray="3,2.4"/>
<line x1="258.00" y1="472.00" x2="279.60" y2="445.70" stroke="#111" stroke-width="1.2" stroke-dasharray="3,2.4"/>
<line x1="258.00" y1="472.00" x2="246.70" y2="493.20" stroke="#111" stroke-width="1.2" stroke-dasharray="3,2.4"/>
<line x1="258.00" y1="472.00" x2="234.80" y2="508.20" stroke="#111" stroke-width="1.2" stroke-dasharray="3,2.4"/>
<circle cx="198.20" cy="433.20" r="1.95" fill="#2e9e68"/>
<circle cx="192.50" cy="446.90" r="1.95" fill="#2e9e68"/>
<circle cx="205.70" cy="468.80" r="1.95" fill="#2e9e68"/>
<circle cx="204.00" cy="479.00" r="1.95" fill="#2e9e68"/>
<path d="M274.80 440.79 L276.94 444.21 L272.66 444.21 Z" fill="#8a45aa"/>
<path d="M279.60 443.99 L281.75 447.41 L277.46 447.41 Z" fill="#8a45aa"/>
<path d="M246.70 491.49 L248.84 494.91 L244.55 494.91 Z" fill="#8a45aa"/>
<path d="M234.80 506.49 L236.95 509.91 L232.66 509.91 Z" fill="#8a45aa"/>
<rect x="182.20" y="416.70" width="116.10" height="113.80" fill="none" stroke="#333" stroke-width="1.3"/>
<line x1="179.70" y1="416.60" x2="182.20" y2="416.60" stroke="#333" stroke-width="1"/>
<text x="178.40" y="419.20" font-size="7.6" text-anchor="end" fill="#333">0.4</text>
<line x1="179.70" y1="428.65" x2="182.20" y2="428.65" stroke="#333" stroke-width="1"/>
<text x="178.40" y="431.25" font-size="7.6" text-anchor="end" fill="#333">0.3</text>
<line x1="179.70" y1="440.70" x2="182.20" y2="440.70" stroke="#333" stroke-width="1"/>
<text x="178.40" y="443.30" font-size="7.6" text-anchor="end" fill="#333">0.2</text>
<line x1="179.70" y1="452.75" x2="182.20" y2="452.75" stroke="#333" stroke-width="1"/>
<text x="178.40" y="455.35" font-size="7.6" text-anchor="end" fill="#333">0.1</text>
<line x1="179.70" y1="464.80" x2="182.20" y2="464.80" stroke="#333" stroke-width="1"/>
<text x="178.40" y="467.40" font-size="7.6" text-anchor="end" fill="#333">0</text>
<line x1="179.70" y1="476.85" x2="182.20" y2="476.85" stroke="#333" stroke-width="1"/>
<text x="178.40" y="479.45" font-size="7.6" text-anchor="end" fill="#333">-0.1</text>
<line x1="179.70" y1="488.90" x2="182.20" y2="488.90" stroke="#333" stroke-width="1"/>
<text x="178.40" y="491.50" font-size="7.6" text-anchor="end" fill="#333">-0.2</text>
<line x1="179.70" y1="500.95" x2="182.20" y2="500.95" stroke="#333" stroke-width="1"/>
<text x="178.40" y="503.55" font-size="7.6" text-anchor="end" fill="#333">-0.3</text>
<line x1="179.70" y1="513.00" x2="182.20" y2="513.00" stroke="#333" stroke-width="1"/>
<text x="178.40" y="515.60" font-size="7.6" text-anchor="end" fill="#333">-0.4</text>
<line x1="179.70" y1="525.05" x2="182.20" y2="525.05" stroke="#333" stroke-width="1"/>
<text x="178.40" y="527.65" font-size="7.6" text-anchor="end" fill="#333">-0.5</text>
<line x1="187.80" y1="530.50" x2="187.80" y2="533.00" stroke="#333" stroke-width="1"/>
<text x="189.10" y="538.00" font-size="7.6" text-anchor="middle" fill="#333">-0.4</text>
<line x1="208.60" y1="530.50" x2="208.60" y2="533.00" stroke="#333" stroke-width="1"/>
<text x="209.90" y="538.00" font-size="7.6" text-anchor="middle" fill="#333">-0.2</text>
<line x1="229.40" y1="530.50" x2="229.40" y2="533.00" stroke="#333" stroke-width="1"/>
<text x="229.40" y="538.00" font-size="7.6" text-anchor="middle" fill="#333">0</text>
<line x1="250.20" y1="530.50" x2="250.20" y2="533.00" stroke="#333" stroke-width="1"/>
<text x="250.20" y="538.00" font-size="7.6" text-anchor="middle" fill="#333">0.2</text>
<line x1="271.00" y1="530.50" x2="271.00" y2="533.00" stroke="#333" stroke-width="1"/>
<text x="271.00" y="538.00" font-size="7.6" text-anchor="middle" fill="#333">0.4</text>
<line x1="291.80" y1="530.50" x2="291.80" y2="533.00" stroke="#333" stroke-width="1"/>
<text x="291.80" y="538.00" font-size="7.6" text-anchor="middle" fill="#333">0.6</text>
<line x1="198.20" y1="530.50" x2="198.20" y2="533.00" stroke="#333" stroke-width="1"/>
<line x1="219.00" y1="530.50" x2="219.00" y2="533.00" stroke="#333" stroke-width="1"/>
<line x1="239.80" y1="530.50" x2="239.80" y2="533.00" stroke="#333" stroke-width="1"/>
<line x1="260.60" y1="530.50" x2="260.60" y2="533.00" stroke="#333" stroke-width="1"/>
<line x1="281.40" y1="530.50" x2="281.40" y2="533.00" stroke="#333" stroke-width="1"/>
<text x="250.50" y="546.80" font-size="9.2" text-anchor="middle" fill="#333">PC1(42.13%)</text>
<text x="166.70" y="463.10" font-size="9.2" text-anchor="middle" fill="#333" transform="rotate(-90 166.70 463.10)">PC2(19.35%)</text>
<text x="157.00" y="412.70" font-size="9.6" text-anchor="start" fill="#1a1a1a" font-weight="bold">(G)</text>
<text x="260.00" y="424.30" font-size="7.7" fill="#444">R² = 0.3743</text>
<text x="260.00" y="433.00" font-size="7.7" fill="#444"><tspan font-style="italic">p</tspan> = 0.0270</text>
<circle cx="276.90" cy="519.80" r="1.65" fill="#2e9e68"/>
<text x="280.50" y="522.60" font-size="7.5" text-anchor="start" fill="#333">siP</text>
<path d="M276.90 523.16 L278.71 526.04 L275.08 526.04 Z" fill="#8a45aa"/>
<text x="280.50" y="527.40" font-size="7.5" text-anchor="start" fill="#333">siG</text>
<ellipse cx="343.70" cy="474.35" rx="42.75" ry="9.30" transform="rotate(93.89 343.70 474.35)" fill="#d1d1e8" stroke="#777" stroke-width="0.9"/>
<ellipse cx="427.00" cy="475.60" rx="4.90" ry="12.60" transform="rotate(0.00 427.00 475.60)" fill="#fbf9e6" stroke="#777" stroke-width="0.9"/>
<line x1="326.60" y1="475.20" x2="444.00" y2="475.20" stroke="#7a7a7a" stroke-width="1.7" stroke-dasharray="2.5,2.0"/>
<line x1="385.60" y1="416.00" x2="385.60" y2="530.00" stroke="#7a7a7a" stroke-width="1.7" stroke-dasharray="2.5,2.0"/>
<line x1="343.00" y1="474.30" x2="335.20" y2="467.90" stroke="#111" stroke-width="1.3" stroke-dasharray="3.8,3.6"/>
<line x1="343.00" y1="474.30" x2="345.50" y2="457.10" stroke="#111" stroke-width="1.3" stroke-dasharray="3.8,3.6"/>
<line x1="343.00" y1="474.30" x2="347.00" y2="456.70" stroke="#111" stroke-width="1.3" stroke-dasharray="3.8,3.6"/>
<line x1="343.00" y1="474.30" x2="350.30" y2="450.60" stroke="#111" stroke-width="1.3" stroke-dasharray="3.8,3.6"/>
<line x1="343.00" y1="474.30" x2="341.90" y2="522.10" stroke="#111" stroke-width="1.3" stroke-dasharray="3.8,3.6"/>
<line x1="427.00" y1="475.00" x2="423.50" y2="469.60" stroke="#111" stroke-width="1.3" stroke-dasharray="3,2"/>
<line x1="427.00" y1="475.00" x2="430.00" y2="471.10" stroke="#111" stroke-width="1.3" stroke-dasharray="3,2"/>
<line x1="427.00" y1="475.00" x2="431.30" y2="470.40" stroke="#111" stroke-width="1.3" stroke-dasharray="3,2"/>
<line x1="427.00" y1="475.00" x2="425.20" y2="490.50" stroke="#111" stroke-width="1.3" stroke-dasharray="3,2"/>
<circle cx="335.20" cy="467.90" r="1.95" fill="#2e9e68"/>
<circle cx="345.50" cy="457.10" r="1.95" fill="#2e9e68"/>
<circle cx="347.00" cy="456.70" r="1.95" fill="#2e9e68"/>
<circle cx="350.30" cy="450.60" r="1.95" fill="#2e9e68"/>
<circle cx="341.90" cy="522.10" r="1.95" fill="#2e9e68"/>
<path d="M423.50 467.89 L425.64 471.31 L421.36 471.31 Z" fill="#8a45aa"/>
<path d="M430.00 469.39 L432.14 472.81 L427.86 472.81 Z" fill="#8a45aa"/>
<path d="M431.30 468.69 L433.44 472.11 L429.16 472.11 Z" fill="#8a45aa"/>
<path d="M425.20 488.79 L427.34 492.21 L423.06 492.21 Z" fill="#8a45aa"/>
<rect x="326.60" y="416.00" width="117.40" height="114.00" fill="none" stroke="#333" stroke-width="1.3"/>
<line x1="324.10" y1="415.80" x2="326.60" y2="415.80" stroke="#333" stroke-width="1"/>
<text x="322.80" y="418.40" font-size="7.6" text-anchor="end" fill="#1a1a1a" stroke="#1a1a1a" stroke-width="0.3">0.6</text>
<line x1="324.10" y1="425.70" x2="326.60" y2="425.70" stroke="#333" stroke-width="1"/>
<text x="322.80" y="428.30" font-size="7.6" text-anchor="end" fill="#1a1a1a" stroke="#1a1a1a" stroke-width="0.3">0.5</text>
<line x1="324.10" y1="435.60" x2="326.60" y2="435.60" stroke="#333" stroke-width="1"/>
<text x="322.80" y="438.20" font-size="7.6" text-anchor="end" fill="#1a1a1a" stroke="#1a1a1a" stroke-width="0.3">0.4</text>
<line x1="324.10" y1="445.50" x2="326.60" y2="445.50" stroke="#333" stroke-width="1"/>
<text x="322.80" y="448.10" font-size="7.6" text-anchor="end" fill="#1a1a1a" stroke="#1a1a1a" stroke-width="0.3">0.3</text>
<line x1="324.10" y1="455.40" x2="326.60" y2="455.40" stroke="#333" stroke-width="1"/>
<text x="322.80" y="458.00" font-size="7.6" text-anchor="end" fill="#1a1a1a" stroke="#1a1a1a" stroke-width="0.3">0.2</text>
<line x1="324.10" y1="465.30" x2="326.60" y2="465.30" stroke="#333" stroke-width="1"/>
<text x="322.80" y="467.90" font-size="7.6" text-anchor="end" fill="#1a1a1a" stroke="#1a1a1a" stroke-width="0.3">0.1</text>
<line x1="324.10" y1="475.20" x2="326.60" y2="475.20" stroke="#333" stroke-width="1"/>
<text x="322.80" y="477.80" font-size="7.6" text-anchor="end" fill="#1a1a1a" stroke="#1a1a1a" stroke-width="0.3">0</text>
<line x1="324.10" y1="485.10" x2="326.60" y2="485.10" stroke="#333" stroke-width="1"/>
<text x="322.80" y="487.70" font-size="7.6" text-anchor="end" fill="#1a1a1a" stroke="#1a1a1a" stroke-width="0.3">-0.1</text>
<line x1="324.10" y1="495.00" x2="326.60" y2="495.00" stroke="#333" stroke-width="1"/>
<text x="322.80" y="497.60" font-size="7.6" text-anchor="end" fill="#1a1a1a" stroke="#1a1a1a" stroke-width="0.3">-0.2</text>
<line x1="324.10" y1="504.90" x2="326.60" y2="504.90" stroke="#333" stroke-width="1"/>
<text x="322.80" y="507.50" font-size="7.6" text-anchor="end" fill="#1a1a1a" stroke="#1a1a1a" stroke-width="0.3">-0.3</text>
<line x1="324.10" y1="514.80" x2="326.60" y2="514.80" stroke="#333" stroke-width="1"/>
<text x="322.80" y="517.40" font-size="7.6" text-anchor="end" fill="#1a1a1a" stroke="#1a1a1a" stroke-width="0.3">-0.4</text>
<line x1="324.10" y1="524.70" x2="326.60" y2="524.70" stroke="#333" stroke-width="1"/>
<text x="322.80" y="527.30" font-size="7.6" text-anchor="end" fill="#1a1a1a" stroke="#1a1a1a" stroke-width="0.3">-0.5</text>
<line x1="340.15" y1="530.00" x2="340.15" y2="532.50" stroke="#333" stroke-width="1"/>
<text x="341.45" y="536.70" font-size="7.6" text-anchor="middle" fill="#333">-0.3</text>
<line x1="355.30" y1="530.00" x2="355.30" y2="532.50" stroke="#333" stroke-width="1"/>
<text x="356.60" y="536.70" font-size="7.6" text-anchor="middle" fill="#333">-0.2</text>
<line x1="370.45" y1="530.00" x2="370.45" y2="532.50" stroke="#333" stroke-width="1"/>
<text x="371.75" y="536.70" font-size="7.6" text-anchor="middle" fill="#333">-0.1</text>
<line x1="385.60" y1="530.00" x2="385.60" y2="532.50" stroke="#333" stroke-width="1"/>
<text x="385.60" y="536.70" font-size="7.6" text-anchor="middle" fill="#333">0</text>
<line x1="400.75" y1="530.00" x2="400.75" y2="532.50" stroke="#333" stroke-width="1"/>
<text x="400.75" y="536.70" font-size="7.6" text-anchor="middle" fill="#333">0.1</text>
<line x1="415.90" y1="530.00" x2="415.90" y2="532.50" stroke="#333" stroke-width="1"/>
<text x="415.90" y="536.70" font-size="7.6" text-anchor="middle" fill="#333">0.2</text>
<line x1="431.05" y1="530.00" x2="431.05" y2="532.50" stroke="#333" stroke-width="1"/>
<text x="431.05" y="536.70" font-size="7.6" text-anchor="middle" fill="#333">0.3</text>
<line x1="438.62" y1="530.00" x2="438.62" y2="532.50" stroke="#333" stroke-width="1"/>
<text x="395.00" y="547.20" font-size="9.2" text-anchor="middle" fill="#888">PC1(27.89%)</text>
<text x="311.20" y="463.60" font-size="9.2" text-anchor="middle" fill="#333" transform="rotate(-90 311.20 463.60)">PC2(16.31%)</text>
<text x="302.60" y="412.70" font-size="9.6" text-anchor="start" fill="#1a1a1a" font-weight="bold">(H)</text>
<text x="405.20" y="424.60" font-size="7.7" fill="#444">R² = 0.2772</text>
<text x="405.20" y="432.50" font-size="7.7" fill="#444"><tspan font-style="italic">p</tspan> = 0.0270</text>
<circle cx="423.50" cy="519.30" r="1.65" fill="#2e9e68"/>
<text x="427.00" y="522.10" font-size="7.5" text-anchor="start" fill="#333">cP</text>
<path d="M423.50 523.56 L425.31 526.44 L421.69 526.44 Z" fill="#8a45aa"/>
<text x="427.00" y="527.80" font-size="7.5" text-anchor="start" fill="#333">cG</text>
<ellipse cx="487.70" cy="475.75" rx="41.48" ry="5.00" transform="rotate(83.91 487.70 475.75)" fill="#d1d1e8" stroke="#777" stroke-width="0.9"/>
<ellipse cx="571.40" cy="472.75" rx="13.80" ry="1.20" transform="rotate(94.99 571.40 472.75)" fill="#bbbbd8" stroke="#888" stroke-width="0.5"/>
<line x1="471.30" y1="475.20" x2="588.30" y2="475.20" stroke="#7a7a7a" stroke-width="1.7" stroke-dasharray="2.5,2.0"/>
<line x1="529.50" y1="416.30" x2="529.50" y2="529.70" stroke="#7a7a7a" stroke-width="1.7" stroke-dasharray="2.5,2.0"/>
<line x1="487.30" y1="476.00" x2="483.10" y2="430.80" stroke="#111" stroke-width="1.2" stroke-dasharray="3,2.4"/>
<line x1="487.30" y1="476.00" x2="485.20" y2="478.20" stroke="#111" stroke-width="1.2" stroke-dasharray="3,2.4"/>
<line x1="487.30" y1="476.00" x2="487.00" y2="494.10" stroke="#111" stroke-width="1.2" stroke-dasharray="3,2.4"/>
<line x1="487.30" y1="476.00" x2="493.90" y2="500.60" stroke="#111" stroke-width="1.2" stroke-dasharray="3,2.4"/>
<line x1="572.60" y1="459.20" x2="570.30" y2="485.70" stroke="#111" stroke-width="1.4" stroke-dasharray="3,1.2"/>
<circle cx="483.10" cy="430.80" r="1.95" fill="#2e9e68"/>
<circle cx="485.20" cy="478.20" r="1.95" fill="#2e9e68"/>
<circle cx="487.00" cy="494.10" r="1.95" fill="#2e9e68"/>
<circle cx="493.90" cy="500.60" r="1.95" fill="#2e9e68"/>
<path d="M572.50 457.49 L574.64 460.91 L570.36 460.91 Z" fill="#8a45aa"/>
<path d="M571.80 469.39 L573.94 472.81 L569.65 472.81 Z" fill="#8a45aa"/>
<path d="M570.80 479.09 L572.94 482.51 L568.65 482.51 Z" fill="#8a45aa"/>
<path d="M570.30 483.99 L572.44 487.41 L568.15 487.41 Z" fill="#8a45aa"/>
<rect x="471.30" y="416.30" width="117.00" height="113.40" fill="none" stroke="#333" stroke-width="1.3"/>
<line x1="468.80" y1="415.68" x2="471.30" y2="415.68" stroke="#333" stroke-width="1"/>
<text x="467.50" y="418.28" font-size="7.6" text-anchor="end" fill="#1a1a1a" stroke="#1a1a1a" stroke-width="0.3">0.6</text>
<line x1="468.80" y1="425.60" x2="471.30" y2="425.60" stroke="#333" stroke-width="1"/>
<text x="467.50" y="428.20" font-size="7.6" text-anchor="end" fill="#1a1a1a" stroke="#1a1a1a" stroke-width="0.3">0.5</text>
<line x1="468.80" y1="435.52" x2="471.30" y2="435.52" stroke="#333" stroke-width="1"/>
<text x="467.50" y="438.12" font-size="7.6" text-anchor="end" fill="#1a1a1a" stroke="#1a1a1a" stroke-width="0.3">0.4</text>
<line x1="468.80" y1="445.44" x2="471.30" y2="445.44" stroke="#333" stroke-width="1"/>
<text x="467.50" y="448.04" font-size="7.6" text-anchor="end" fill="#1a1a1a" stroke="#1a1a1a" stroke-width="0.3">0.3</text>
<line x1="468.80" y1="455.36" x2="471.30" y2="455.36" stroke="#333" stroke-width="1"/>
<text x="467.50" y="457.96" font-size="7.6" text-anchor="end" fill="#1a1a1a" stroke="#1a1a1a" stroke-width="0.3">0.2</text>
<line x1="468.80" y1="465.28" x2="471.30" y2="465.28" stroke="#333" stroke-width="1"/>
<text x="467.50" y="467.88" font-size="7.6" text-anchor="end" fill="#1a1a1a" stroke="#1a1a1a" stroke-width="0.3">0.1</text>
<line x1="468.80" y1="475.20" x2="471.30" y2="475.20" stroke="#333" stroke-width="1"/>
<text x="467.50" y="477.80" font-size="7.6" text-anchor="end" fill="#1a1a1a" stroke="#1a1a1a" stroke-width="0.3">0</text>
<line x1="468.80" y1="485.12" x2="471.30" y2="485.12" stroke="#333" stroke-width="1"/>
<text x="467.50" y="487.72" font-size="7.6" text-anchor="end" fill="#1a1a1a" stroke="#1a1a1a" stroke-width="0.3">-0.1</text>
<line x1="468.80" y1="495.04" x2="471.30" y2="495.04" stroke="#333" stroke-width="1"/>
<text x="467.50" y="497.64" font-size="7.6" text-anchor="end" fill="#1a1a1a" stroke="#1a1a1a" stroke-width="0.3">-0.2</text>
<line x1="468.80" y1="504.96" x2="471.30" y2="504.96" stroke="#333" stroke-width="1"/>
<text x="467.50" y="507.56" font-size="7.6" text-anchor="end" fill="#1a1a1a" stroke="#1a1a1a" stroke-width="0.3">-0.3</text>
<line x1="468.80" y1="514.88" x2="471.30" y2="514.88" stroke="#333" stroke-width="1"/>
<text x="467.50" y="517.48" font-size="7.6" text-anchor="end" fill="#1a1a1a" stroke="#1a1a1a" stroke-width="0.3">-0.4</text>
<line x1="468.80" y1="524.80" x2="471.30" y2="524.80" stroke="#333" stroke-width="1"/>
<text x="467.50" y="527.40" font-size="7.6" text-anchor="end" fill="#1a1a1a" stroke="#1a1a1a" stroke-width="0.3">-0.5</text>
<line x1="477.10" y1="529.70" x2="477.10" y2="532.20" stroke="#333" stroke-width="1"/>
<text x="478.40" y="536.70" font-size="7.6" text-anchor="middle" fill="#333">-0.4</text>
<line x1="490.20" y1="529.70" x2="490.20" y2="532.20" stroke="#333" stroke-width="1"/>
<text x="491.50" y="536.70" font-size="7.6" text-anchor="middle" fill="#333">-0.3</text>
<line x1="503.30" y1="529.70" x2="503.30" y2="532.20" stroke="#333" stroke-width="1"/>
<text x="504.60" y="536.70" font-size="7.6" text-anchor="middle" fill="#333">-0.2</text>
<line x1="516.40" y1="529.70" x2="516.40" y2="532.20" stroke="#333" stroke-width="1"/>
<text x="517.70" y="536.70" font-size="7.6" text-anchor="middle" fill="#333">-0.1</text>
<line x1="529.50" y1="529.70" x2="529.50" y2="532.20" stroke="#333" stroke-width="1"/>
<text x="529.50" y="536.70" font-size="7.6" text-anchor="middle" fill="#333">0</text>
<line x1="542.60" y1="529.70" x2="542.60" y2="532.20" stroke="#333" stroke-width="1"/>
<text x="542.60" y="536.70" font-size="7.6" text-anchor="middle" fill="#333">0.1</text>
<line x1="555.70" y1="529.70" x2="555.70" y2="532.20" stroke="#333" stroke-width="1"/>
<text x="555.70" y="536.70" font-size="7.6" text-anchor="middle" fill="#333">0.2</text>
<line x1="568.80" y1="529.70" x2="568.80" y2="532.20" stroke="#333" stroke-width="1"/>
<text x="568.80" y="536.70" font-size="7.6" text-anchor="middle" fill="#333">0.3</text>
<line x1="581.90" y1="529.70" x2="581.90" y2="532.20" stroke="#333" stroke-width="1"/>
<text x="581.90" y="536.70" font-size="7.6" text-anchor="middle" fill="#333">0.4</text>
<text x="538.40" y="547.20" font-size="9.2" text-anchor="middle" fill="#888">PC1(34.99%)</text>
<text x="455.70" y="463.60" font-size="9.2" text-anchor="middle" fill="#333" transform="rotate(-90 455.70 463.60)">PC2(15.03%)</text>
<text x="446.70" y="412.70" font-size="9.6" text-anchor="start" fill="#1a1a1a" font-weight="bold">(I)</text>
<text x="549.20" y="423.50" font-size="7.7" fill="#444">R² = 0.3490</text>
<text x="549.20" y="431.90" font-size="7.7" fill="#444"><tspan font-style="italic">p</tspan> = 0.0270</text>
<circle cx="566.00" cy="519.60" r="1.65" fill="#2e9e68"/>
<text x="569.20" y="522.40" font-size="7.5" text-anchor="start" fill="#333">reP</text>
<path d="M566.00 523.56 L567.82 526.44 L564.18 526.44 Z" fill="#8a45aa"/>
<text x="569.20" y="527.80" font-size="7.5" text-anchor="start" fill="#333">reG</text>
</svg>
</body></html>
